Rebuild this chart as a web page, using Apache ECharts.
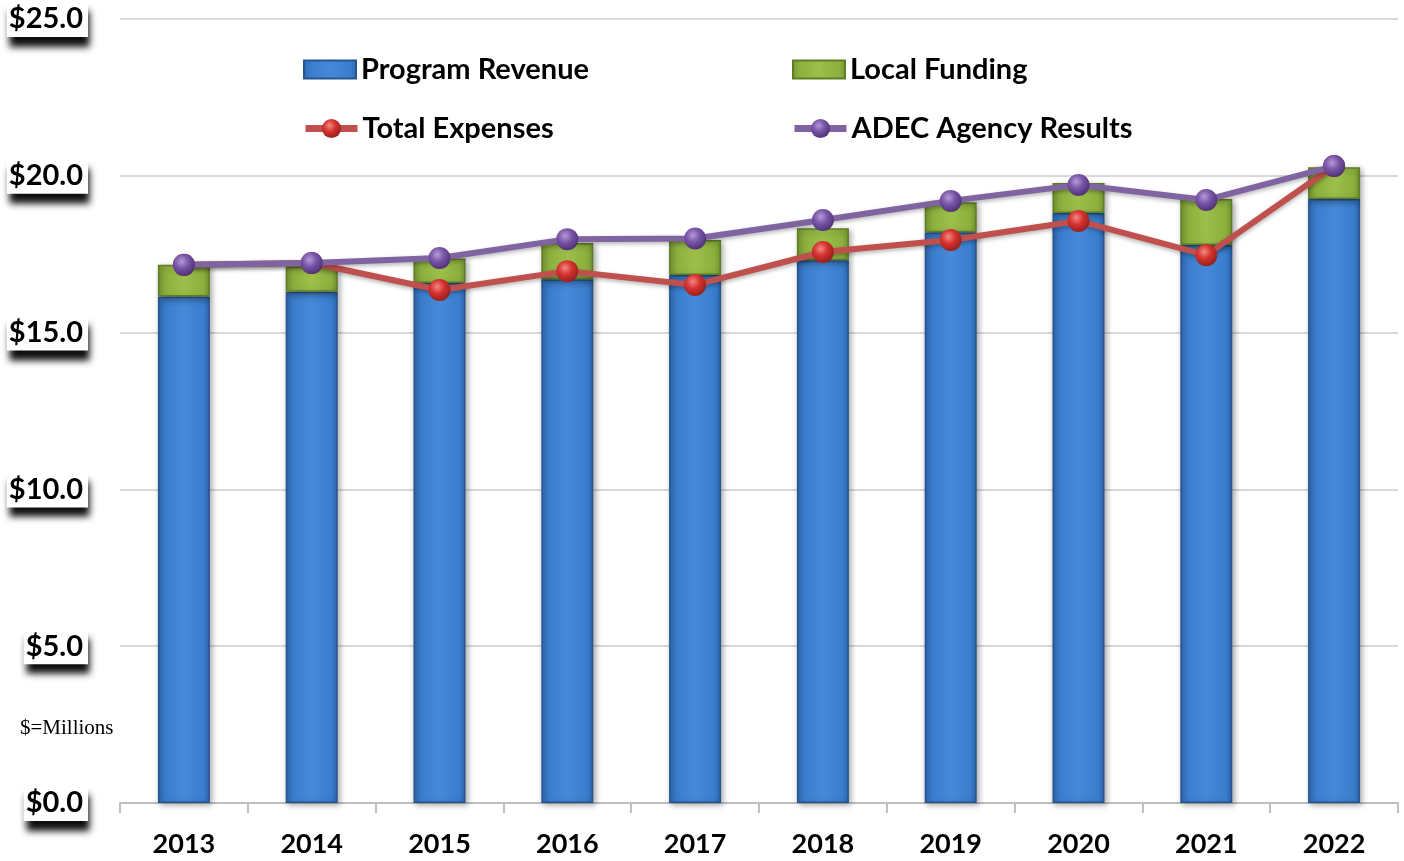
<!DOCTYPE html>
<html>
<head>
<meta charset="utf-8">
<script src="https://cdn.jsdelivr.net/npm/echarts@6/dist/echarts.min.js"></script>
<style>
  html, body { margin: 0; padding: 0; background: #fff; }
  #chart { width: 1404px; height: 861px; }
</style>
</head>
<body>
<div id="chart"></div>
<script>
  // values in $ millions
  var years = ['2013', '2014', '2015', '2016', '2017', '2018', '2019', '2020', '2021', '2022'];
  var programRevenue = [16.15, 16.30, 16.58, 16.70, 16.84, 17.31, 18.20, 18.81, 17.79, 19.26];
  var localFunding = [1.01, 0.81, 0.78, 1.16, 1.11, 1.02, 0.96, 0.96, 1.47, 1.01];
  var totalExpenses = [17.16, 17.22, 16.36, 16.96, 16.52, 17.57, 17.95, 18.56, 17.47, 20.31];
  var adecResults = [17.16, 17.22, 17.38, 17.98, 18.00, 18.59, 19.20, 19.71, 19.23, 20.31];

  var font = 'Lato';

  var chart = echarts.init(document.getElementById('chart'));

  function barGrad(dark, mid, light) {
    return new echarts.graphic.LinearGradient(0, 0, 1, 0, [
      { offset: 0, color: dark },
      { offset: 0.12, color: mid },
      { offset: 0.5, color: light },
      { offset: 0.88, color: mid },
      { offset: 1, color: dark }
    ]);
  }
  function ball(light, base, dark) {
    return new echarts.graphic.RadialGradient(0.4, 0.35, 0.7, [
      { offset: 0, color: light },
      { offset: 0.45, color: base },
      { offset: 1, color: dark }
    ]);
  }

  var legendText = { fontFamily: font, fontWeight: 'bold', fontSize: 29, color: '#000' };

  function oneLegend(name, left, top, isBar) {
    var l = {
      data: [name], left: left, top: top, padding: 0,
      itemWidth: 52, itemHeight: isBar ? 18 : 24, itemGap: 0,
      textStyle: legendText
    };
    if (isBar) l.icon = 'rect';
    else l.lineStyle = { width: 7 };
    return l;
  }

  var option = {
    animation: false,
    grid: { left: 120, right: 6, top: 19, bottom: 58 },
    legend: [
      oneLegend('Program Revenue', 303, 55, true),
      oneLegend('Local Funding', 792, 55, true),
      oneLegend('Total Expenses', 302, 114, false),
      oneLegend('ADEC Agency Results', 791, 114, false)
    ],
    graphic: [{
      type: 'text', left: 20, top: 718,
      style: { text: '$=Millions', font: '21px "Liberation Serif"', fill: '#000' }
    }],
    xAxis: {
      type: 'category',
      data: years,
      axisLine: { lineStyle: { color: '#bfbfbf', width: 2 } },
      axisTick: { show: true, length: 10, lineStyle: { color: '#bfbfbf', width: 2 } },
      axisLabel: { fontFamily: font, fontWeight: 'bold', fontSize: 27, color: '#000', margin: 28 }
    },
    yAxis: {
      type: 'value', min: 0, max: 25, interval: 5,
      axisLine: { show: false },
      axisTick: { show: false },
      splitLine: { lineStyle: { color: '#d9d9d9', width: 2 } },
      axisLabel: {
        formatter: function (v) { return '$' + v.toFixed(1); },
        fontFamily: font, fontWeight: 'bold', fontSize: 29, color: '#000',
        backgroundColor: '#fff',
        padding: [2, 5, 5, 2],
        shadowColor: 'rgba(0,0,0,0.95)', shadowBlur: 7, shadowOffsetX: 2, shadowOffsetY: 10,
        margin: 32
      }
    },
    series: [
      {
        name: 'Program Revenue', type: 'bar', stack: 'total',
        barWidth: 52,
        data: programRevenue,
        itemStyle: {
          color: barGrad('#2d68b0', '#3a7dcd', '#4689d8'),
          borderColor: '#285590', borderWidth: 1.5,
          shadowColor: 'rgba(0,0,0,0.35)', shadowBlur: 6, shadowOffsetX: 2, shadowOffsetY: 2
        }
      },
      {
        name: 'Local Funding', type: 'bar', stack: 'total',
        barWidth: 52,
        data: localFunding,
        itemStyle: {
          color: barGrad('#759631', '#8caf3d', '#9cbf4a'),
          borderColor: '#5f7d26', borderWidth: 1.5,
          shadowColor: 'rgba(0,0,0,0.35)', shadowBlur: 6, shadowOffsetX: 2, shadowOffsetY: 2
        }
      },
      {
        name: 'Total Expenses', type: 'line',
        data: totalExpenses,
        symbol: 'circle', symbolSize: 22,
        lineStyle: { color: '#c0504d', width: 6, shadowColor: 'rgba(0,0,0,0.3)', shadowBlur: 4, shadowOffsetY: 2 },
        itemStyle: { color: ball('#f08a86', '#d6322e', '#8e1f1c') },
        z: 3
      },
      {
        name: 'ADEC Agency Results', type: 'line',
        data: adecResults,
        symbol: 'circle', symbolSize: 22,
        lineStyle: { color: '#8064a2', width: 6, shadowColor: 'rgba(0,0,0,0.3)', shadowBlur: 4, shadowOffsetY: 2 },
        itemStyle: { color: ball('#b49bd6', '#7a55a8', '#4a2e70') },
        z: 4
      }
    ]
  };

  chart.setOption(option);
</script>
</body>
</html>
